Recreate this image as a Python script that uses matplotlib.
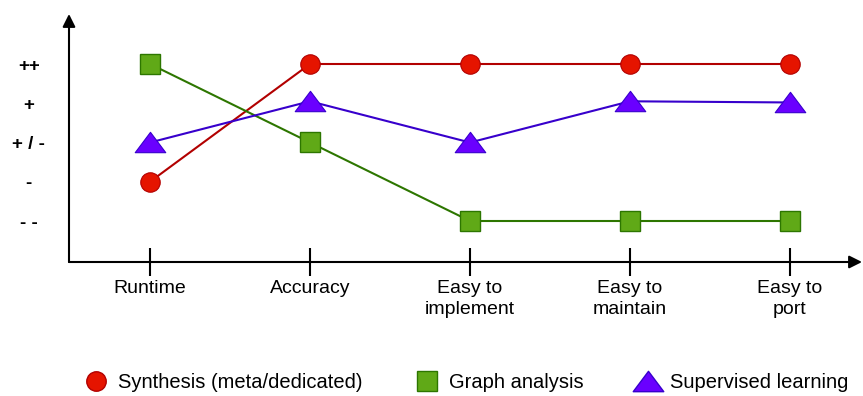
import matplotlib
matplotlib.use("Agg")
import matplotlib.pyplot as plt
from matplotlib.lines import Line2D
from matplotlib.path import Path

plt.rcParams['font.family'] = ['Liberation Sans', 'DejaVu Sans']

criteria = ["Runtime", "Accuracy", "Easy to\nimplement", "Easy to\nmaintain", "Easy to\nport"]
levels = [1, 2, 3, 4, 5]
level_labels = ["- -", "-", "+ / -", "+", "++"]

synthesis = [2, 5, 5, 5, 5]
graph_analysis = [5, 3, 1, 1, 1]
supervised = [3, 4.05, 3, 4.05, 4.02]

# wide flat triangle like the drawing
tri = Path([(-1.5, -1), (1.5, -1), (0, 1), (-1.5, -1)],
           [Path.MOVETO, Path.LINETO, Path.LINETO, Path.CLOSEPOLY])

W, H = 863, 396
fig = plt.figure(figsize=(W / 100, H / 100), dpi=100)
ax = fig.add_axes([69 / W, 1 - 262 / H, (862 - 69) / W, (262 - 14) / H])

x = list(range(len(criteria)))
ax.plot(x, synthesis, color="#B20000", lw=1.5, marker="o", ms=14,
        mfc="#E51400", mec="#B20000", mew=0.8, clip_on=False, zorder=3)
ax.plot(x, graph_analysis, color="#2D7600", lw=1.5, marker="s", ms=14,
        mfc="#60A917", mec="#2D7600", mew=1, clip_on=False, zorder=3)
ax.plot(x, supervised, color="#3700CC", lw=1.5, marker=tri, ms=22,
        mfc="#6A00FF", mec="#3700CC", mew=0.8, clip_on=False, zorder=3)

ax.set_xlim(-81 / 160, (862 - 150) / 160)
ax.set_ylim(1 - 41 / 39.25, 5 + 50 / 39.25)

for s in ax.spines.values():
    s.set_visible(False)
for end in [(1, 0), (0, 1)]:
    ax.annotate("", xy=end, xytext=(0, 0), xycoords="axes fraction",
                arrowprops=dict(arrowstyle="-|>", lw=1.5, color="black", mutation_scale=19,
                                shrinkA=0, shrinkB=0))

ax.set_xticks(x)
ax.set_xticklabels(criteria, fontsize=14, linespacing=1.3)
ax.tick_params(axis="x", direction="inout", length=20, width=1.5, pad=3)
ax.set_yticks(levels)
ax.set_yticklabels(level_labels, fontsize=13.5, fontweight="bold")
for lab in ax.get_yticklabels():
    lab.set_horizontalalignment("center")
ax.tick_params(axis="y", length=0, pad=29)

handles = [
    Line2D([], [], ls="none", marker="o", ms=14, mfc="#E51400", mec="#B20000"),
    Line2D([], [], ls="none", marker="s", ms=14, mfc="#60A917", mec="#2D7600"),
    Line2D([], [], ls="none", marker=tri, ms=22, mfc="#6A00FF", mec="#3700CC"),
]
names = ["Synthesis (meta/dedicated)", "Graph analysis", "Supervised learning"]
fig.legend(handles, names, loc="center", bbox_to_anchor=(466 / W, 1 - 383 / H), ncol=3,
           frameon=False, fontsize=14.5, handlelength=1.2, handletextpad=0.5,
           columnspacing=2.6, numpoints=1, borderpad=0, borderaxespad=0)

fig.savefig("out.png", dpi=100)
